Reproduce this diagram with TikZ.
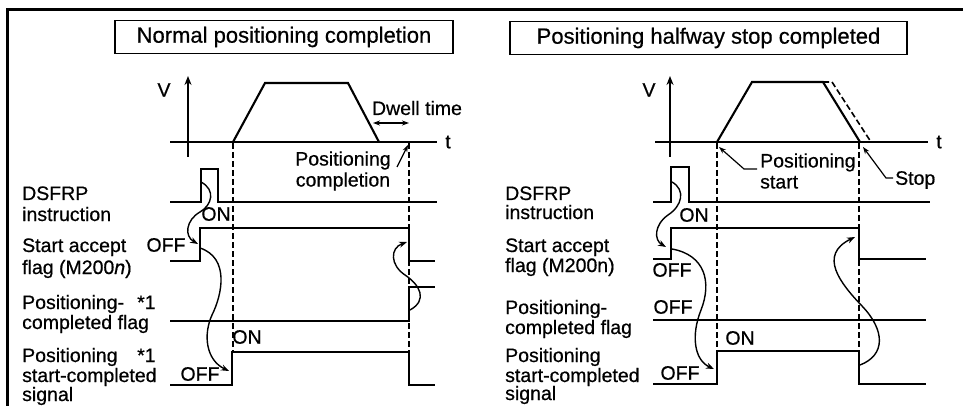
\documentclass[tikz,border=0pt]{standalone}
\usepackage{fontspec}
\setmainfont{Liberation Sans}[FakeBold=0.6]
\usetikzlibrary{arrows.meta}
\tikzset{
  sig/.style={line width=2.1pt, line join=miter},
  axis/.style={line width=2.1pt},
  guide/.style={line width=1.6pt, dash pattern=on 6pt off 3pt},
  curv/.style={line width=1.4pt, -{Stealth[length=8pt,width=6pt]}},
  lab/.style={anchor=base west, inner sep=0pt, font=\fontsize{19.5}{21}\selectfont},
  lbl/.style={inner sep=0pt, font=\fontsize{19.5}{21}\selectfont},
  titlebox/.style={draw, line width=1.5pt, minimum height=33pt, font=\fontsize{22}{24}\selectfont},
}
\begin{document}
\begin{tikzpicture}[x=1pt,y=-1pt]
\useasboundingbox (0,0) rectangle (963,406);
% outer frame
\draw[line width=3pt] (7,406) -- (7,10) -- (963,10);

% titles
\node[titlebox, minimum width=338pt] (t1) at (284,37) {Normal positioning completion};
\node[titlebox, minimum width=397pt] (t2) at (708.5,38) {Positioning halfway stop completed};

%%%%%%%%%%%%%%%% LEFT CHART %%%%%%%%%%%%%%%%
\coordinate (LVb) at (188,157); \coordinate (LVt) at (188,76);
\draw[axis,-{Stealth[length=9pt,width=7pt]}] (LVb) -- (LVt);
\node[lbl] (LV) at (164,90) {V};
\coordinate (LTa) at (170,142); \coordinate (LTb) at (437,142);
\draw[axis] (LTa) -- (LTb);
\node[lbl] (Lt) at (448,142) {t};
\draw[axis, line join=miter] (233,142) -- (265,83) -- (348,83) -- (379,142);
\node[lbl] (Ldwell) at (417,108) {Dwell time};
\draw[line width=1.3pt, {Stealth[length=7pt,width=5pt]}-{Stealth[length=7pt,width=5pt]}] (373,123) -- (409,123);
\draw[guide] (233,143) -- (233,352);
\draw[guide] (409,143) -- (409,352);
\node[lbl, align=center] (Lpc) at (343,171) {Positioning\\completion};
\coordinate (Lpcs) at (397,167);
\coordinate (Lpce) at (408,145);
\draw[line width=1.2pt, -{Stealth[length=7pt,width=5pt]}] (Lpcs) -- (Lpce);

% left signals
\draw[sig] (170,202) -- (201,202) -- (201,169) -- (218,169) -- (218,202) -- (437,202);
\draw[sig] (170,261) -- (200,261) -- (200,228) -- (409,228) -- (409,261) -- (435,261);
\draw[sig] (170,321) -- (409,321) -- (409,287) -- (435,287);
\draw[sig] (170,385) -- (232,385) -- (232,352) -- (409,352) -- (409,385) -- (435,385);

% left signal labels
\node[lbl] (Lon1) at (216,214) {ON};
\node[lbl] (Loff1) at (166,245) {OFF};
\node[lbl] (Lon2) at (247,337) {ON};
\node[lbl] (Loff2) at (200,374) {OFF};

% left curves
\draw[curv] (201,182) .. controls (216,190) and (212,205) .. (200,212) .. controls (186,220) and (184,236) .. (198,244);
\draw[curv] (200,248) .. controls (230,258) and (222,295) .. (212,315) .. controls (203,335) and (206,360) .. (229,371);
\draw[curv] (410,310) .. controls (428,300) and (420,285) .. (405,275) .. controls (390,265) and (390,248) .. (407,242);

% left labels
\node[lab] (L1a) at (22,200) {DSFRP};
\node[lab] (L1b) at (22,221) {instruction};
\node[lab] (L2a) at (22,252) {Start accept};
\node[lab] (L2b) at (22,274) {flag (M200\textit{n})};
\node[lab] (L3a) at (22,309) {Positioning-};
\node[lab] (L3s) at (137,309) {*1};
\node[lab] (L3b) at (22,329) {completed flag};
\node[lab] (L4a) at (22,362) {Positioning};
\node[lab] (L4s) at (137,362) {*1};
\node[lab] (L4b) at (22,382) {start-completed};
\node[lab] (L4c) at (22,401) {signal};

%%%%%%%%%%%%%%%% RIGHT CHART %%%%%%%%%%%%%%%%
\coordinate (RVb) at (670,157); \coordinate (RVt) at (670,76);
\draw[axis,-{Stealth[length=9pt,width=7pt]}] (RVb) -- (RVt);
\node[lbl] (RV) at (649,90) {V};
\coordinate (RTa) at (655,142); \coordinate (RTb) at (928,142);
\draw[axis] (RTa) -- (RTb);
\node[lbl] (Rt) at (939,142) {t};
\draw[axis, line join=miter] (717,142) -- (752,82) -- (823,82) -- (860,142);
\draw[line width=1.6pt, dash pattern=on 6pt off 3pt] (823,82) -- (832,82) -- (871,142);
\draw[guide] (717,143) -- (717,351);
\draw[guide] (859,143) -- (859,351);
\node[lbl, align=left, anchor=west] (Rps) at (760,171) {Positioning\\start};
\coordinate (Rpsa) at (757,169);
\coordinate (Rpsb) at (744,169);
\coordinate (Rpse) at (719,147);
\draw[line width=1.2pt, -{Stealth[length=7pt,width=5pt]}] (Rpsa) -- (Rpsb) -- (Rpse);
\node[lbl, anchor=west] (Rstop) at (895,180) {Stop};
\coordinate (Rsta) at (893,178);
\coordinate (Rstb) at (886,178);
\coordinate (Rste) at (863,147);
\draw[line width=1.2pt, -{Stealth[length=7pt,width=5pt]}] (Rsta) -- (Rstb) -- (Rste);

% right signals
\draw[sig] (653,202) -- (671,202) -- (671,167) -- (689,167) -- (689,202) -- (930,202);
\draw[sig] (653,259) -- (671,259) -- (671,228) -- (859,228) -- (859,259) -- (926,259);
\draw[sig] (653,320) -- (926,320);
\draw[sig] (653,384) -- (717,384) -- (717,351) -- (859,351) -- (859,384) -- (926,384);

% right signal labels
\node[lbl] (Ron1) at (694,215) {ON};
\node[lbl] (Roff1) at (672,270) {OFF};
\node[lbl] (Roff2) at (673,307) {OFF};
\node[lbl] (Ron2) at (740,338) {ON};
\node[lbl] (Roff3) at (680,373) {OFF};

% right curves
\draw[curv] (672,182) .. controls (686,190) and (682,206) .. (668,215) .. controls (654,225) and (654,240) .. (666,247);
\draw[curv] (672,249) .. controls (705,255) and (712,282) .. (701,310) .. controls (691,335) and (694,360) .. (714,369);
\draw[curv] (860,365) .. controls (886,355) and (885,330) .. (862,306) .. controls (840,283) and (818,255) .. (855,237);

% right labels
\node[lab] (R1a) at (505,200) {DSFRP};
\node[lab] (R1b) at (505,219) {instruction};
\node[lab] (R2a) at (505,252) {Start accept};
\node[lab] (R2b) at (505,272) {flag (M200n)};
\node[lab] (R3a) at (505,314) {Positioning-};
\node[lab] (R3b) at (505,334) {completed flag};
\node[lab] (R4a) at (505,362) {Positioning};
\node[lab] (R4b) at (505,382) {start-completed};
\node[lab] (R4c) at (505,400) {signal};
\end{tikzpicture}
\end{document}
